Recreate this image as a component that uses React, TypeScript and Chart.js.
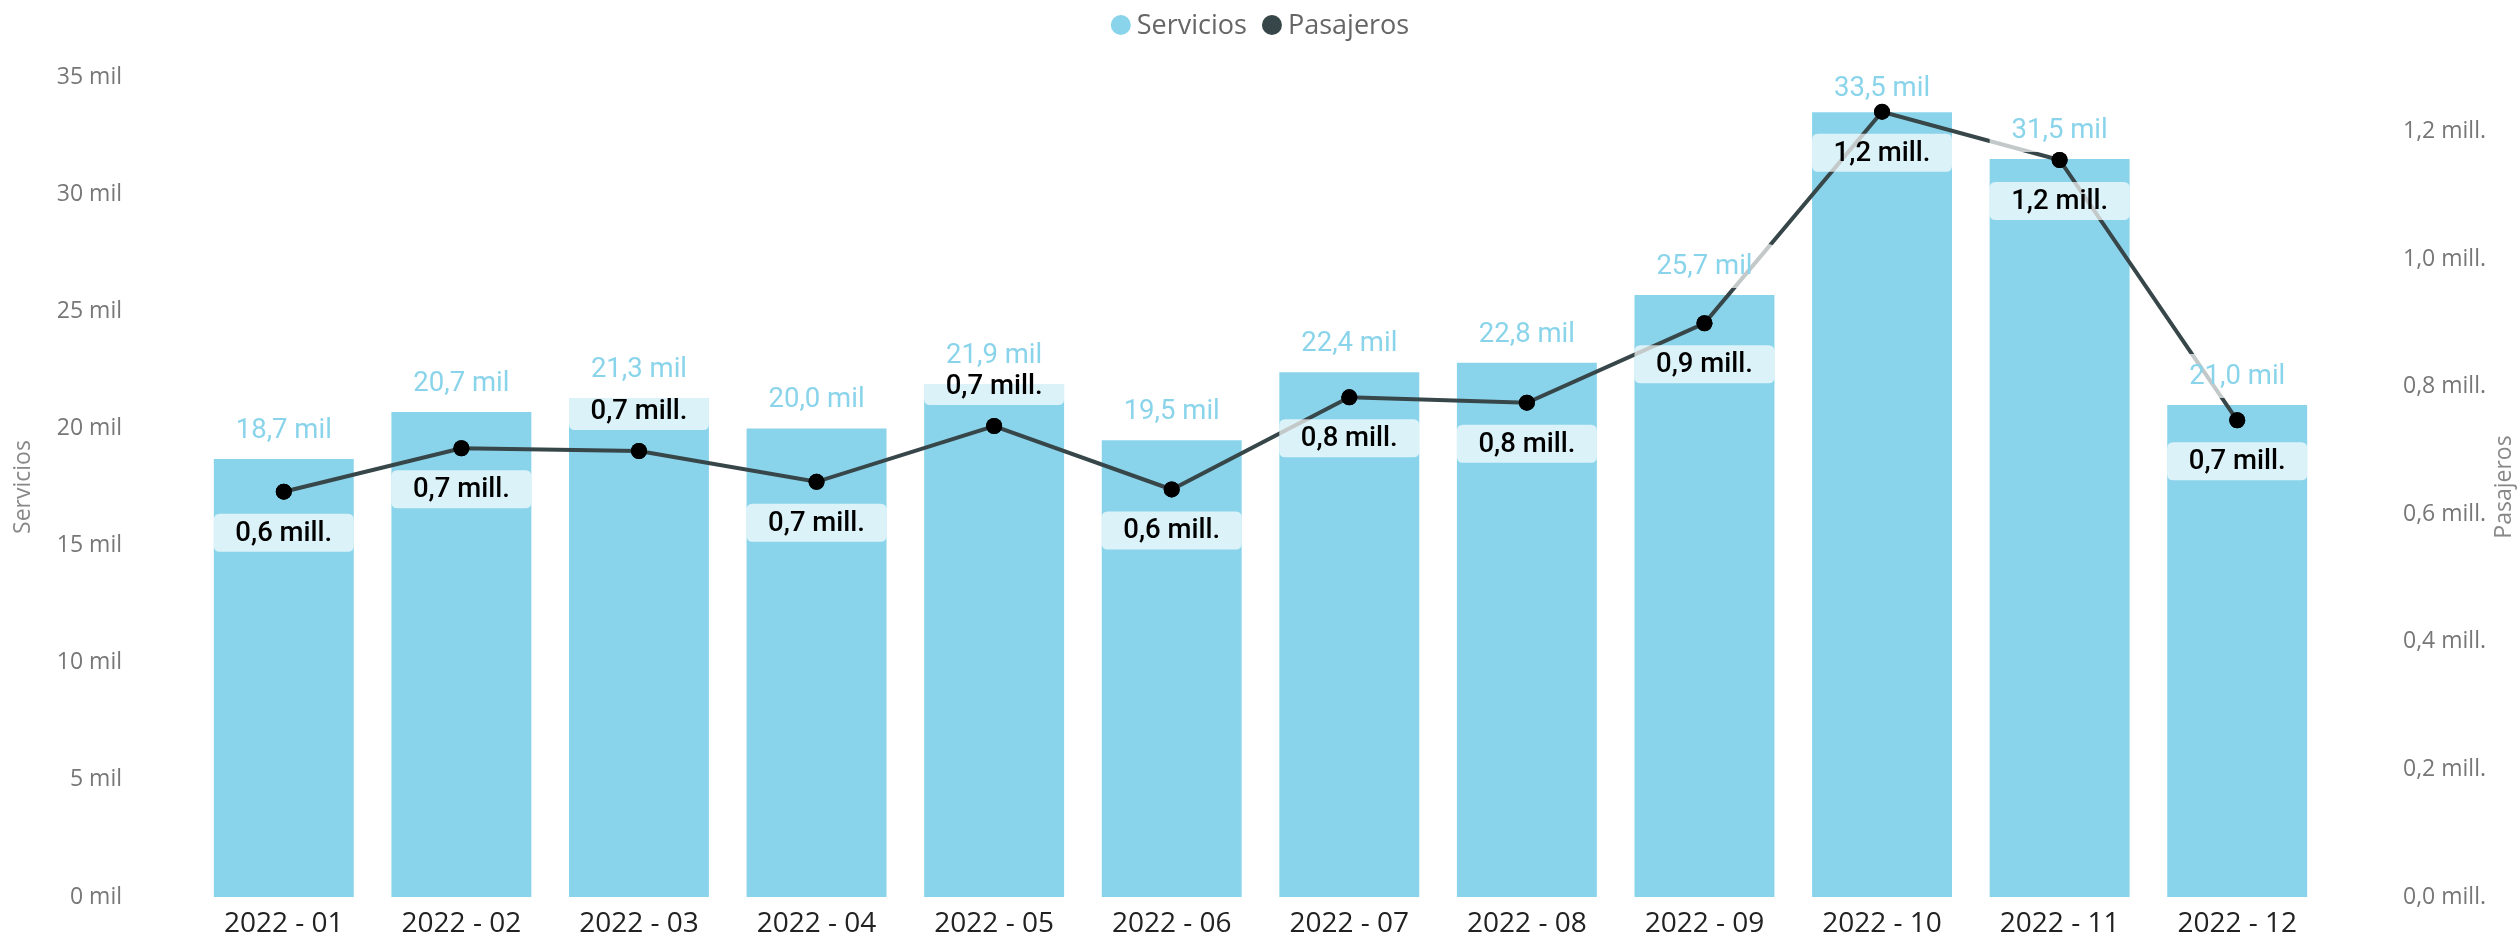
import React, { useEffect, useRef } from 'react';
import { Chart, registerables } from 'chart.js';

Chart.register(...registerables);

// ---- data ----
const categories = [
  '2022 - 01', '2022 - 02', '2022 - 03', '2022 - 04', '2022 - 05', '2022 - 06',
  '2022 - 07', '2022 - 08', '2022 - 09', '2022 - 10', '2022 - 11', '2022 - 12',
];
const servicios = [18700, 20700, 21300, 20000, 21900, 19500, 22400, 22800, 25700, 33500, 31500, 21000];
const pasajeros = [635500, 703600, 699300, 651000, 738500, 639000, 783500, 775000, 899600, 1231300, 1155600, 747500];
const serviciosTicks = [0, 5000, 10000, 15000, 20000, 25000, 30000, 35000];
const pasajerosTicks = [0, 200000, 400000, 600000, 800000, 1000000, 1200000];

// label placement for the line's data labels (indices whose label sits above the point)
const LINE_LABELS_ABOVE = [2, 4];

const BAR_COLOR = '#8AD4EB';
const LINE_COLOR = '#374649';
const BAR_LABEL_FONT = '400 27.5px Roboto';
const LINE_LABEL_FONT = '500 27.5px Roboto';

const comma = (s: string) => s.replace('.', ',');
const fmtMil1 = (v: number) => comma((v / 1000).toFixed(1)) + ' mil';
const fmtMill1 = (v: number) => comma((v / 1e6).toFixed(1)) + ' mill.';

function roundRect(ctx: CanvasRenderingContext2D, x: number, y: number, w: number, h: number, r: number) {
  ctx.beginPath();
  ctx.moveTo(x + r, y);
  ctx.lineTo(x + w - r, y);
  ctx.quadraticCurveTo(x + w, y, x + w, y + r);
  ctx.lineTo(x + w, y + h - r);
  ctx.quadraticCurveTo(x + w, y + h, x + w - r, y + h);
  ctx.lineTo(x + r, y + h);
  ctx.quadraticCurveTo(x, y + h, x, y + h - r);
  ctx.lineTo(x, y + r);
  ctx.quadraticCurveTo(x, y, x + r, y);
  ctx.closePath();
}

const labelsPlugin = {
  id: 'pbiLabels',
  afterDatasetsDraw(chart: any) {
    const ctx: CanvasRenderingContext2D = chart.ctx;
    const barMeta = chart.getDatasetMeta(0);
    const lineMeta = chart.getDatasetMeta(1);
    const area = chart.chartArea;
    ctx.save();
    ctx.textAlign = 'center';
    ctx.textBaseline = 'middle';
    ctx.font = BAR_LABEL_FONT;
    barMeta.data.forEach((bar: any, i: number) => {
      const w = bar.width;
      const cy = Math.max(bar.y - 29, area.top + 11);
      ctx.fillStyle = 'rgba(255,255,255,0.7)';
      roundRect(ctx, bar.x - w / 2, cy - 22, w, 44, 6);
      ctx.fill();
      ctx.fillStyle = BAR_COLOR;
      ctx.fillText(fmtMil1(chart.data.datasets[0].data[i]), bar.x, cy + 1);
    });
    ctx.font = LINE_LABEL_FONT;
    lineMeta.data.forEach((pt: any, i: number) => {
      const w = barMeta.data[i].width;
      const above = LINE_LABELS_ABOVE.includes(i);
      const cy = pt.y + (above ? -40 : 41);
      ctx.fillStyle = 'rgba(255,255,255,0.7)';
      roundRect(ctx, pt.x - w / 2, cy - 19, w, 38, 6);
      ctx.fill();
      ctx.fillStyle = '#000';
      ctx.fillText(fmtMill1(chart.data.datasets[1].data[i]), pt.x, cy + 1);
    });
    lineMeta.data.forEach((pt: any) => pt.draw(ctx, area));
    ctx.restore();
  },
};

const legendPlugin = {
  id: 'pbiLegend',
  afterDraw(chart: any) {
    const ctx: CanvasRenderingContext2D = chart.ctx;
    ctx.save();
    ctx.font = '27px "Open Sans"';
    const items = chart.data.datasets.map((d: any) => ({
      text: d.label,
      color: d.type === 'line' ? d.borderColor : d.backgroundColor,
    }));
    const widths = items.map((it: any) => ctx.measureText(it.text).width);
    const r = 10, gap = 16, between = 25;
    let total = r;
    items.forEach((_: any, i: number) => {
      total += gap + widths[i] + (i < items.length - 1 ? between : 0);
    });
    let x = chart.width / 2 - total / 2 + r;
    const y = 25;
    items.forEach((it: any, i: number) => {
      ctx.fillStyle = it.color;
      ctx.beginPath();
      ctx.arc(x, y, r, 0, Math.PI * 2);
      ctx.fill();
      ctx.fillStyle = '#666';
      ctx.textAlign = 'left';
      ctx.textBaseline = 'middle';
      ctx.fillText(it.text, x + gap, y + 1);
      x += gap + widths[i] + between;
    });
    // right axis title (reads bottom-to-top)
    const area = chart.chartArea;
    ctx.translate(2504, (area.top + area.bottom) / 2);
    ctx.rotate(-Math.PI / 2);
    ctx.font = '23px "Open Sans"';
    ctx.fillStyle = '#888';
    ctx.textAlign = 'center';
    ctx.textBaseline = 'middle';
    ctx.fillText('Pasajeros', 0, 0);
    ctx.restore();
  },
};

export default function App() {
  const ref = useRef<HTMLCanvasElement | null>(null);

  useEffect(() => {
    if (!ref.current) return;
    Chart.defaults.font.family = '"Open Sans", sans-serif';
    const chart = new Chart(ref.current, {
      type: 'bar',
      data: {
        labels: categories,
        datasets: [
          {
            type: 'bar',
            label: 'Servicios',
            data: servicios,
            backgroundColor: BAR_COLOR,
            yAxisID: 'y',
            order: 1,
            categoryPercentage: 1,
            barPercentage: 0.788,
          } as any,
          {
            type: 'line',
            label: 'Pasajeros',
            data: pasajeros,
            borderColor: LINE_COLOR,
            borderWidth: 4,
            pointRadius: 8,
            pointBackgroundColor: '#000',
            pointBorderWidth: 0,
            pointHoverRadius: 8,
            tension: 0,
            yAxisID: 'y1',
            order: 0,
          } as any,
        ],
      },
      options: {
        responsive: false,
        animation: false,
        layout: { padding: { top: 77, left: 0, right: 0, bottom: 0 } },
        plugins: {
          legend: { display: false },
          tooltip: { enabled: false },
        },
        scales: {
          x: {
            grid: { display: false, drawTicks: false },
            border: { display: false },
            ticks: { color: '#222', font: { size: 28 }, padding: 10 },
            afterFit: (s: any) => { s.height = 43; },
          },
          y: {
            position: 'left',
            min: 0,
            max: 35000,
            grid: { display: false, drawTicks: true, tickLength: 73 },
            border: { display: false },
            afterBuildTicks: (s: any) => { s.ticks = serviciosTicks.map((v) => ({ value: v })); },
            ticks: {
              color: '#777',
              font: { size: 23 },
              padding: 0,
              callback: (v: any) => `${Number(v) / 1000} mil`,
            },
            title: {
              display: true,
              text: 'Servicios',
              color: '#888',
              font: { size: 23 },
              padding: { top: 10, bottom: 0 },
            },
            afterFit: (s: any) => { s.width = 195; },
          },
          y1: {
            position: 'right',
            min: 0,
            max: 1285700,
            grid: { display: false, drawTicks: true, tickLength: 77 },
            border: { display: false },
            afterBuildTicks: (s: any) => { s.ticks = pasajerosTicks.map((v) => ({ value: v })); },
            ticks: {
              color: '#777',
              font: { size: 23 },
              padding: 0,
              callback: (v: any) => fmtMill1(Number(v)),
            },
            afterFit: (s: any) => { s.width = 194; },
          },
        },
      },
      plugins: [labelsPlugin, legendPlugin],
    });
    return () => chart.destroy();
  }, []);

  return (
    <div style={{ position: 'fixed', left: 0, top: 0, width: 2520, height: 940, background: '#fff' }}>
      <canvas ref={ref} width={2520} height={940} style={{ width: 2520, height: 940, display: 'block' }} />
    </div>
  );
}
